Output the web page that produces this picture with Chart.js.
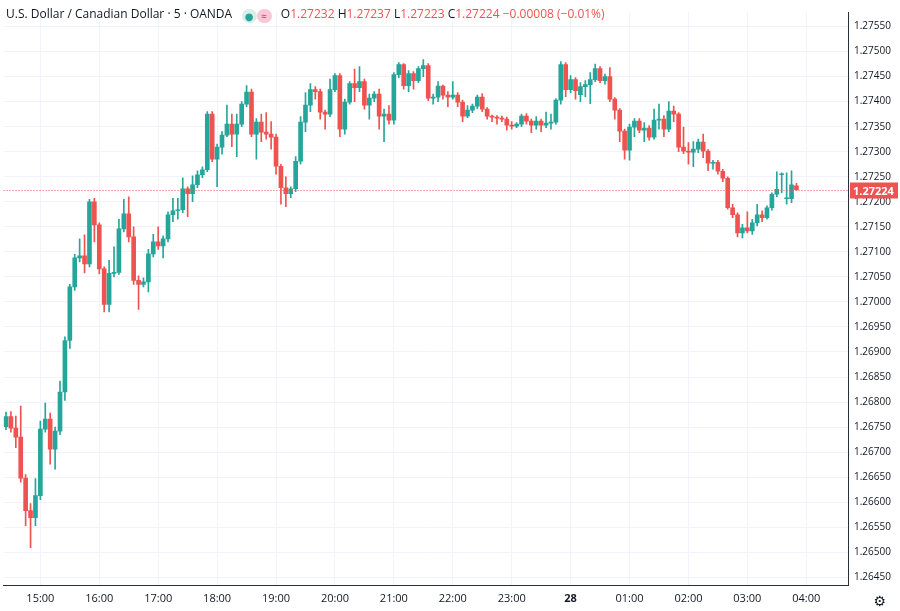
<!DOCTYPE html>
<html>
<head>
<meta charset="utf-8">
<script src="https://cdn.jsdelivr.net/npm/chart.js@4.4.0/dist/chart.umd.min.js"></script>
<style>
  html, body { margin: 0; padding: 0; background: #fff; }
  #wrap { position: relative; width: 900px; height: 611px; }
  #titulo { position: absolute; left: 6px; top: 5px; font: 12px "Open Sans", "DejaVu Sans", sans-serif; color: #131722; white-space: nowrap; }
  #titulo .v { color: #ef5350; }
  #titulo .ic { display: inline-block; width: 15px; height: 14px; border-radius: 7px; vertical-align: -2px; text-align: center; font-size: 10px; line-height: 14px; }
  #gear { position: absolute; right: 14px; bottom: 2px; font: 14px "DejaVu Sans", sans-serif; color: #131722; }
</style>
</head>
<body>
<div id="wrap">
  <canvas id="grafico" width="900" height="611"></canvas>
  <div id="titulo">U.S. Dollar / Canadian Dollar · 5 · OANDA&nbsp;&nbsp;
    <span class="ic" style="background:#d8efe9;color:#26a69a">●</span><span class="ic" style="background:#f8c8d6;color:#e91e63">≈</span>&nbsp;&nbsp;
    O<span class="v">1.27232</span> H<span class="v">1.27237</span> L<span class="v">1.27223</span> C<span class="v">1.27224</span> <span class="v">−0.00008 (−0.01%)</span>
  </div>
  <div id="gear">⚙</div>
</div>
<script>
const horaInicio = [14, 25];
const totalVelas = 172;

const aperturas = [1.26751,1.26771,1.26748,1.26730,1.26648,1.26583,1.26569,1.26613,1.26746,1.26766,1.26706,1.26742,1.26820,1.26923,1.27030,1.27088,1.27092,1.27076,1.27200,1.27154,
1.27066,1.26995,1.27057,1.27059,1.27146,1.27176,1.27130,1.27043,1.27035,1.27040,1.27096,1.27120,1.27112,1.27126,1.27174,1.27182,1.27184,1.27226,1.27216,1.27234,
1.27254,1.27264,1.27375,1.27285,1.27309,1.27333,1.27355,1.27335,1.27355,1.27395,1.27419,1.27335,1.27359,1.27339,1.27335,1.27329,1.27271,1.27228,1.27216,1.27226,
1.27281,1.27359,1.27393,1.27424,1.27420,1.27379,1.27375,1.27424,1.27452,1.27345,1.27399,1.27436,1.27428,1.27440,1.27393,1.27407,1.27415,1.27371,1.27375,1.27363,
1.27454,1.27474,1.27432,1.27456,1.27442,1.27466,1.27472,1.27407,1.27409,1.27431,1.27413,1.27409,1.27413,1.27399,1.27371,1.27383,1.27391,1.27409,1.27385,1.27371,
1.27369,1.27367,1.27365,1.27353,1.27351,1.27355,1.27371,1.27361,1.27353,1.27361,1.27353,1.27357,1.27359,1.27403,1.27474,1.27424,1.27444,1.27414,1.27430,1.27434,
1.27444,1.27466,1.27442,1.27450,1.27405,1.27383,1.27341,1.27303,1.27349,1.27361,1.27343,1.27347,1.27329,1.27363,1.27365,1.27345,1.27381,1.27375,1.27309,1.27301,
1.27299,1.27305,1.27319,1.27301,1.27277,1.27279,1.27261,1.27247,1.27188,1.27174,1.27138,1.27148,1.27142,1.27158,1.27174,1.27168,1.27188,1.27215,1.27254,1.27206,
1.27232];
// c160 open kept separately below
const cierres = [1.26771,1.26748,1.26730,1.26648,1.26583,1.26569,1.26613,1.26746,1.26766,1.26706,1.26742,1.26820,1.26923,1.27030,1.27088,1.27092,1.27076,1.27200,1.27154,1.27066,
1.26995,1.27057,1.27059,1.27146,1.27176,1.27130,1.27043,1.27035,1.27040,1.27096,1.27120,1.27112,1.27126,1.27174,1.27182,1.27184,1.27226,1.27216,1.27234,1.27254,
1.27264,1.27375,1.27285,1.27309,1.27333,1.27355,1.27335,1.27355,1.27395,1.27419,1.27335,1.27359,1.27339,1.27335,1.27329,1.27271,1.27228,1.27216,1.27226,1.27281,
1.27359,1.27393,1.27424,1.27420,1.27379,1.27375,1.27424,1.27452,1.27345,1.27399,1.27436,1.27428,1.27440,1.27393,1.27407,1.27415,1.27371,1.27375,1.27363,1.27454,
1.27474,1.27432,1.27456,1.27442,1.27466,1.27472,1.27407,1.27409,1.27431,1.27413,1.27409,1.27413,1.27399,1.27371,1.27383,1.27391,1.27409,1.27385,1.27371,1.27369,
1.27367,1.27365,1.27353,1.27351,1.27355,1.27371,1.27361,1.27353,1.27361,1.27353,1.27357,1.27359,1.27403,1.27474,1.27424,1.27444,1.27422,1.27430,1.27434,1.27444,
1.27466,1.27442,1.27450,1.27405,1.27383,1.27341,1.27303,1.27349,1.27361,1.27343,1.27347,1.27329,1.27363,1.27365,1.27345,1.27381,1.27375,1.27309,1.27301,1.27299,
1.27305,1.27319,1.27301,1.27277,1.27279,1.27261,1.27247,1.27188,1.27174,1.27138,1.27148,1.27142,1.27158,1.27174,1.27168,1.27188,1.27215,1.27225,1.27254,1.27206,
1.27234,1.27224];
const maximos = [1.26780,1.26781,1.26772,1.26792,1.26655,1.26597,1.26647,1.26762,1.26798,1.26778,1.26750,1.26842,1.26930,1.27035,1.27095,1.27126,1.27134,1.27205,1.27207,1.27158,
1.27070,1.27083,1.27110,1.27165,1.27205,1.27210,1.27150,1.27052,1.27048,1.27105,1.27135,1.27150,1.27132,1.27180,1.27207,1.27207,1.27248,1.27230,1.27252,1.27262,
1.27270,1.27380,1.27380,1.27315,1.27340,1.27393,1.27375,1.27375,1.27400,1.27432,1.27425,1.27366,1.27375,1.27378,1.27360,1.27335,1.27275,1.27250,1.27230,1.27290,
1.27370,1.27418,1.27436,1.27430,1.27425,1.27383,1.27445,1.27456,1.27456,1.27405,1.27440,1.27465,1.27470,1.27445,1.27415,1.27420,1.27425,1.27385,1.27392,1.27458,
1.27478,1.27476,1.27462,1.27460,1.27470,1.27484,1.27476,1.27415,1.27440,1.27433,1.27420,1.27440,1.27418,1.27403,1.27392,1.27395,1.27413,1.27416,1.27388,1.27373,
1.27372,1.27371,1.27369,1.27360,1.27358,1.27375,1.27376,1.27365,1.27370,1.27365,1.27379,1.27375,1.27406,1.27480,1.27478,1.27452,1.27448,1.27438,1.27442,1.27458,
1.27475,1.27470,1.27455,1.27468,1.27408,1.27386,1.27345,1.27355,1.27366,1.27366,1.27358,1.27352,1.27385,1.27395,1.27372,1.27400,1.27391,1.27378,1.27349,1.27318,
1.27320,1.27325,1.27335,1.27304,1.27283,1.27283,1.27265,1.27250,1.27195,1.27178,1.27155,1.27180,1.27165,1.27195,1.27182,1.27192,1.27218,1.27260,1.27258,1.27258,
1.27262,1.27237];
const minimos = [1.26745,1.26740,1.26709,1.26640,1.26553,1.26509,1.26553,1.26605,1.26740,1.26676,1.26666,1.26735,1.26803,1.26907,1.27023,1.27080,1.27058,1.27070,1.27120,1.27056,
1.26980,1.26980,1.27050,1.27055,1.27140,1.27120,1.27035,1.26985,1.27030,1.27020,1.27090,1.27105,1.27088,1.27120,1.27160,1.27165,1.27178,1.27170,1.27200,1.27228,
1.27248,1.27260,1.27280,1.27230,1.27295,1.27330,1.27310,1.27290,1.27350,1.27390,1.27330,1.27285,1.27320,1.27325,1.27305,1.27255,1.27195,1.27190,1.27208,1.27220,
1.27275,1.27340,1.27380,1.27405,1.27365,1.27345,1.27370,1.27420,1.27330,1.27335,1.27395,1.27400,1.27420,1.27385,1.27365,1.27400,1.27345,1.27320,1.27355,1.27355,
1.27448,1.27425,1.27420,1.27425,1.27438,1.27450,1.27402,1.27395,1.27400,1.27405,1.27390,1.27405,1.27390,1.27360,1.27368,1.27378,1.27386,1.27380,1.27365,1.27360,
1.27355,1.27360,1.27343,1.27345,1.27348,1.27350,1.27355,1.27338,1.27345,1.27340,1.27348,1.27345,1.27355,1.27395,1.27410,1.27418,1.27405,1.27400,1.27410,1.27396,
1.27440,1.27438,1.27435,1.27400,1.27365,1.27320,1.27285,1.27283,1.27330,1.27338,1.27320,1.27323,1.27325,1.27345,1.27330,1.27340,1.27360,1.27300,1.27296,1.27275,
1.27270,1.27298,1.27288,1.27262,1.27265,1.27255,1.27240,1.27185,1.27168,1.27130,1.27128,1.27138,1.27135,1.27152,1.27160,1.27165,1.27183,1.27210,1.27218,1.27195,
1.27198,1.27223];
const aperturaVela160 = 1.27206;
const ticksPrecio = [1.2645,1.2650,1.2655,1.2660,1.2665,1.2670,1.2675,1.2680,1.2685,1.2690,1.2695,1.2700,1.2705,1.2710,1.2715,1.2720,1.2725,1.2730,1.2735,1.2740,1.2745,1.2750,1.2755];

const VERDE = '#26a69a', ROJO = '#ef5350';

const etiquetas = [];
for (let i = 0; i < totalVelas; i++) {
  const t = horaInicio[0] * 60 + horaInicio[1] + i * 5;
  const h = Math.floor(t / 60) % 24, m = t % 60;
  etiquetas.push(String(h).padStart(2, '0') + ':' + String(m).padStart(2, '0'));
}
// open list: insert c160 open before the last entry
const opens = aperturas.slice(0, 160).concat([aperturaVela160, aperturas[160]]);
const colores = cierres.map((c, i) => c >= opens[i] ? VERDE : ROJO);
const cuerpos = cierres.map((c, i) => [opens[i], c]);
const mechas = cierres.map((c, i) => [minimos[i], maximos[i]]);
const ultimo = cierres[cierres.length - 1];

const etiquetaHora = (i) => {
  const l = etiquetas[i];
  if (!l || !l.endsWith(':00')) return '';
  return l === '00:00' ? '28' : l;
};

const plugUltimo = {
  id: 'ultimo',
  afterDatasetsDraw(chart) {
    const { ctx, chartArea, scales } = chart;
    const y = Math.round(scales.y.getPixelForValue(ultimo)) + 0.5;
    ctx.save();
    ctx.strokeStyle = ROJO; ctx.lineWidth = 1; ctx.setLineDash([1, 2]);
    ctx.beginPath(); ctx.moveTo(chartArea.left, y); ctx.lineTo(chartArea.right, y); ctx.stroke();
    ctx.setLineDash([]);
    ctx.fillStyle = ROJO;
    ctx.fillRect(chartArea.right + 2, y - 8, 48, 16);
    ctx.fillStyle = '#fff'; ctx.font = 'bold 11px "Open Sans", sans-serif';
    ctx.textBaseline = 'middle';
    ctx.fillText(ultimo.toFixed(5), chartArea.right + 5, y + 1);
    ctx.restore();
  }
};

new Chart(document.getElementById('grafico'), {
  type: 'bar',
  data: {
    labels: etiquetas,
    datasets: [
      { data: mechas, backgroundColor: colores, barThickness: 1, minBarLength: 1 },
      { data: cuerpos, backgroundColor: colores, barThickness: 4, minBarLength: 1 }
    ]
  },
  options: {
    responsive: false, animation: false, grouped: false,
    layout: { padding: { left: 0, right: 0, top: 0, bottom: 0 } },
    plugins: { legend: { display: false }, tooltip: { enabled: false } },
    scales: {
      x: {
        offset: true,
        grid: { offset: false, drawTicks: false, color: (c) => etiquetaHora(c.index) ? '#f0f3fa' : 'rgba(0,0,0,0)' },
        border: { color: '#2a2e39' },
        ticks: {
          autoSkip: false, maxRotation: 0, padding: 6, color: '#131722',
          font: (c) => ({ family: 'Open Sans', size: 11, weight: etiquetaHora(c.index) === '28' ? 'bold' : 'normal' }),
          callback: (v, i) => etiquetaHora(i)
        }
      },
      y: {
        position: 'right', min: 1.26433, max: 1.27579,
        afterBuildTicks: (ax) => { ax.ticks = ticksPrecio.map(v => ({ value: v })); },
        afterFit: (ax) => { ax.width = 52; },
        grid: { color: '#f0f3fa', drawTicks: false },
        border: { color: '#2a2e39' },
        ticks: { padding: 6, color: '#131722', font: { family: 'Open Sans', size: 10 }, callback: (v) => Number(v).toFixed(5) }
      }
    }
  },
  plugins: [plugUltimo]
});
</script>
</body>
</html>
